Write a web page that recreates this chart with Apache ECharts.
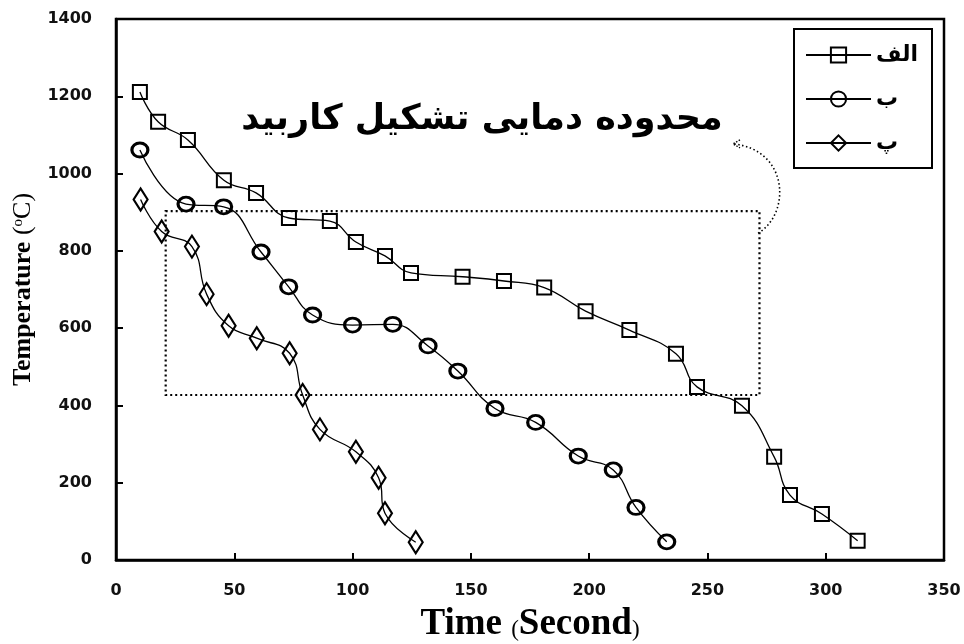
<!DOCTYPE html>
<html>
<head>
<meta charset="utf-8">
<script src="https://cdn.jsdelivr.net/npm/echarts@6/dist/echarts.min.js"></script>
<style>html,body{margin:0;padding:0;background:#fff;}#c{width:964px;height:644px;}</style>
</head>
<body>
<div id="c"></div>
<script>
// ---- data ----
const seriesNames = ['الف', 'ب', 'پ'];
const seriesA_x = [10.1, 17.8, 30.4, 45.6, 59.2, 73.1, 90.4, 101.4, 113.7, 124.7, 146.5, 164, 181, 198.5, 217, 236.7, 245.6, 264.6, 278.2, 284.9, 298.4, 313.5];
const seriesA_y = [1211, 1134, 1087, 983, 950, 885, 877, 823, 787, 743, 733, 722, 705, 644, 595, 534, 448, 399, 267, 168, 119, 50];
const seriesB_x = [10.1, 29.6, 45.5, 61.3, 73, 83.1, 100, 117, 131.9, 144.5, 160.2, 177.4, 195.4, 210.2, 219.8, 232.8];
const seriesB_y = [1061, 921, 914, 797, 707, 634, 608, 610, 554, 489, 392, 356, 269, 233, 136, 47];
const seriesC_x = [10.4, 19.3, 32.1, 38.3, 47.6, 59.5, 73.4, 78.9, 86.2, 101.4, 111, 113.7, 126.7];
const seriesC_y = [933, 850, 811, 688, 606, 574, 535, 427, 338, 280, 213, 121, 46];
const xTicks = [0, 50, 100, 150, 200, 250, 300, 350];
const yTicks = [0, 200, 400, 600, 800, 1000, 1200, 1400];
const regionCorners = [[21, 903], [272, 427]];
// dotted arrow: start, two control points, end (data coordinates)
const arrowPath = [[271.4, 846], [285, 893], [285, 1061], [260.8, 1077]];
const annotation = 'محدوده دمایی تشکیل کاربید';

function pairs(xs, ys) { return xs.map((x, i) => [x, ys[i]]); }

const chart = echarts.init(document.getElementById('c'), null, {renderer: 'canvas'});

const baseLine = {
  type: 'line',
  smooth: 0.45,
  showAllSymbol: true,
  lineStyle: {color: '#000', width: 1.3},
  z: 3
};

const option = {
  animation: false,
  backgroundColor: '#fff',
  title: {
    text: annotation,
    left: 'center',
    top: 97,
    textStyle: {fontFamily: 'DejaVu Sans', fontWeight: 'bold', fontSize: 35, color: '#000'}
  },
  legend: {
    orient: 'vertical',
    left: 794,
    top: 29,
    padding: [15, 14, 14, 11],
    itemWidth: 65,
    itemHeight: 19,
    itemGap: 22,
    borderColor: '#000',
    borderWidth: 2,
    backgroundColor: '#fff',
    lineStyle: {width: 2},
    textStyle: {fontFamily: 'DejaVu Sans', fontWeight: 'bold', fontSize: 22, color: '#000', width: 48, align: 'right'},
    data: seriesNames
  },
  grid: {
    left: 116, right: 20, top: 19, bottom: 84,
    outerBoundsMode: 'none',
    containLabel: false,
    show: true, borderColor: '#000', borderWidth: 2.5, backgroundColor: 'transparent'
  },
  xAxis: {
    type: 'value', min: 0, max: 350, interval: 50,
    name: '{b|Time }{p|(}{b|Second}{p|)}',
    nameLocation: 'middle',
    nameGap: 46,
    nameTextStyle: {
      rich: {
        b: {fontFamily: 'Liberation Serif', fontWeight: 'bold', fontSize: 37, color: '#000'},
        p: {fontFamily: 'Liberation Serif', fontSize: 23, color: '#000', padding: [11, 0, 0, 0]}
      }
    },
    axisLine: {show: true, lineStyle: {color: '#000', width: 2.5}},
    axisTick: {show: true, inside: true, length: 7, lineStyle: {color: '#000', width: 2}},
    axisLabel: {
      margin: 23, fontFamily: 'DejaVu Sans', fontWeight: 'bold', fontSize: 16, color: '#111',
      formatter: v => String(v)
    },
    splitLine: {show: false}
  },
  yAxis: {
    type: 'value', min: 0, max: 1400, interval: 200,
    name: '{b|Temperature }{r|(}{s|o}{r|C)}',
    nameLocation: 'middle',
    nameGap: 78,
    nameRotate: 90,
    nameTextStyle: {
      rich: {
        b: {fontFamily: 'Liberation Serif', fontWeight: 'bold', fontSize: 26, color: '#000'},
        r: {fontFamily: 'Liberation Serif', fontSize: 26, color: '#000'},
        s: {fontFamily: 'Liberation Serif', fontSize: 15, color: '#000', padding: [0, 0, 12, 0]}
      }
    },
    axisLine: {show: true, lineStyle: {color: '#000', width: 2.5}},
    axisTick: {show: true, inside: true, length: 7, lineStyle: {color: '#000', width: 2}},
    axisLabel: {margin: 24, fontFamily: 'DejaVu Sans', fontWeight: 'bold', fontSize: 16, color: '#111',
      formatter: v => String(v)},
    splitLine: {show: false}
  },
  series: [
    Object.assign({}, baseLine, {
      name: seriesNames[0],
      data: pairs(seriesA_x, seriesA_y),
      symbol: 'rect', symbolSize: 14,
      itemStyle: {color: 'rgba(255,255,255,0)', borderColor: '#000', borderWidth: 2},
      markArea: {
        silent: true,
        itemStyle: {color: 'rgba(0,0,0,0)', borderColor: '#000', borderWidth: 2.2, borderType: [2, 3]},
        data: [[{coord: regionCorners[0]}, {coord: regionCorners[1]}]]
      }
    }),
    Object.assign({}, baseLine, {
      name: seriesNames[1],
      data: pairs(seriesB_x, seriesB_y),
      symbol: 'circle', symbolSize: [16, 14],
      itemStyle: {color: 'rgba(255,255,255,0)', borderColor: '#000', borderWidth: 3}
    }),
    Object.assign({}, baseLine, {
      name: seriesNames[2],
      data: pairs(seriesC_x, seriesC_y),
      symbol: 'diamond', symbolSize: [14, 22],
      itemStyle: {color: 'rgba(255,255,255,0)', borderColor: '#000', borderWidth: 2.2}
    })
  ]
};

chart.setOption(option);

// curved dotted arrow, positioned through the chart's own coordinate system
const p = arrowPath.map(c => chart.convertToPixel({gridIndex: 0}, c));
chart.setOption({
  graphic: [
    {
      type: 'bezierCurve',
      shape: {x1: p[0][0], y1: p[0][1], cpx1: p[1][0], cpy1: p[1][1], cpx2: p[2][0], cpy2: p[2][1], x2: p[3][0], y2: p[3][1]},
      style: {stroke: '#000', lineWidth: 1.6, lineDash: [1.5, 2.5], fill: null},
      silent: true, z: 10
    },
    {
      type: 'polyline',
      shape: {points: [[p[3][0] + 7, p[3][1] - 4], [p[3][0], p[3][1]], [p[3][0] + 7, p[3][1] + 4]]},
      style: {stroke: '#000', lineWidth: 1.4, lineDash: [1.5, 1.5], fill: null},
      silent: true, z: 10
    }
  ]
});
</script>
</body>
</html>
